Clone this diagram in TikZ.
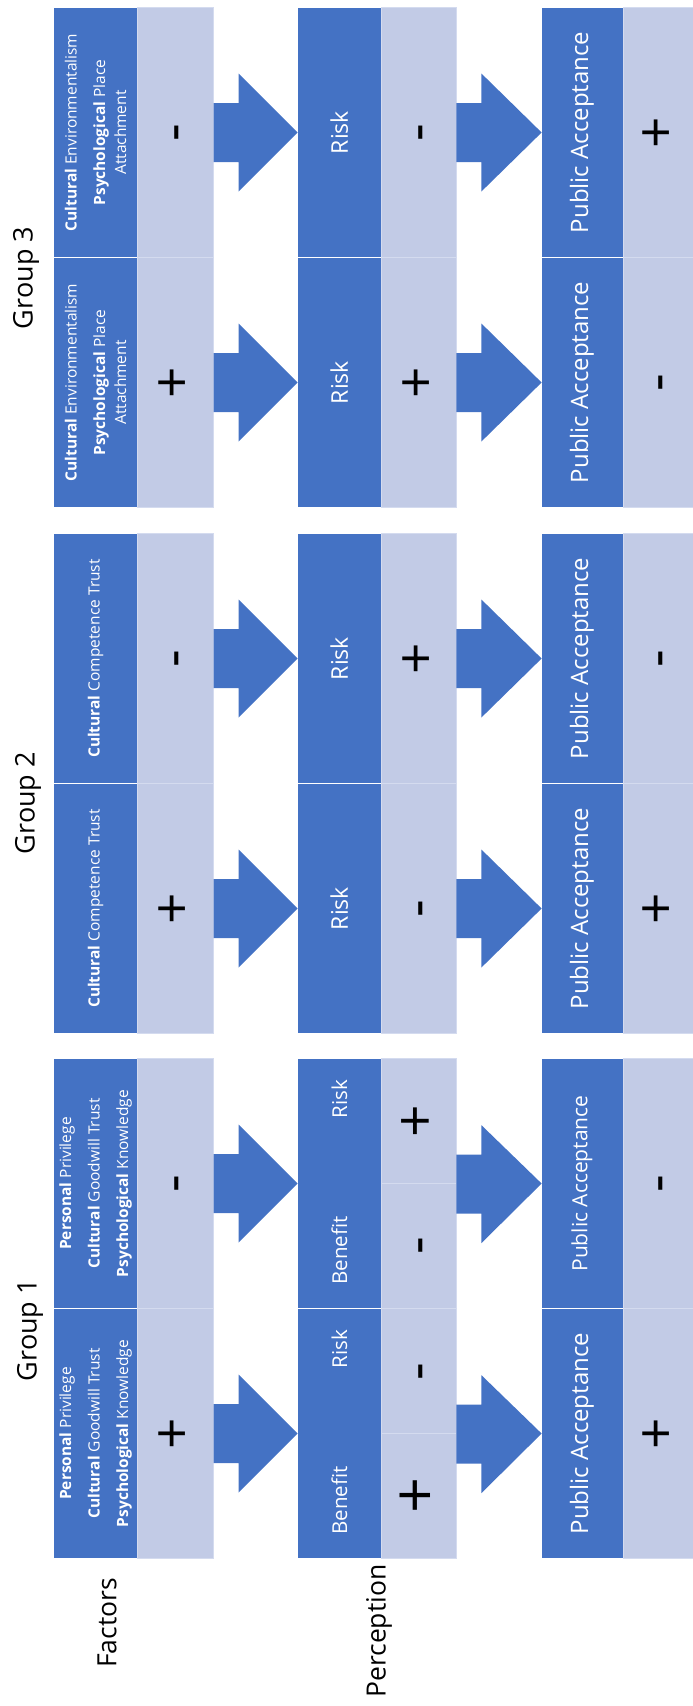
\documentclass[tikz,border=0pt]{standalone}
\usepackage{fontspec}
\setmainfont{Open Sans}
\usetikzlibrary{calc}
\definecolor{accent}{RGB}{68,114,196}
\definecolor{lightc}{RGB}{194,203,230}
\definecolor{lightedge}{RGB}{212,219,239}
\newcommand\sgn[1]{\vphantom{+}#1}
\newcommand\blockarrow[2]{%
  \fill[accent] ([yshift=29.5pt]#1) -- ([xshift=25pt,yshift=29.5pt]#1) -- ([xshift=25pt,yshift=59pt]#1)
    -- ([xshift=1pt]#2) -- ([xshift=25pt,yshift=-59pt]#1) -- ([xshift=25pt,yshift=-29.5pt]#1)
    -- ([yshift=-29.5pt]#1) -- cycle;}
\tikzset{
  darkbox/.style={fill=accent, draw=white, line width=0.8pt, rotate=90, inner sep=0pt,
    minimum width=250pt, text=white, align=center},
  facbox/.style={darkbox, minimum height=84.4pt, font=\fontsize{15.5}{21}\selectfont},
  percbox/.style={darkbox, minimum height=84.7pt},
  pabox/.style={darkbox, minimum height=82pt},
  lightbox/.style={fill=lightc, draw=lightedge, line width=0.8pt, rotate=90, inner sep=0pt,
    minimum width=250pt, text=black, font=\fontsize{55}{55}\selectfont},
  facsign/.style={lightbox, minimum height=75.6pt},
  percsign/.style={lightbox, minimum height=74.3pt},
  pasign/.style={lightbox, minimum height=72pt},
  plabel/.style={rotate=90, text=white, inner sep=0pt},
  biglabel/.style={rotate=90, text=black, inner sep=0pt, font=\fontsize{26.5}{26.5}\selectfont}
}
% #1 id, #2 y, #3 factor text, #4 factor sign, #5 perception sign, #6 acceptance sign
\newcommand\makerow[6]{%
  \node[facbox] (#1F) at (95.5,#2) {#3};
  \node[facsign] (#1Fs) at (175.5,#2) {\sgn{#4}};
  \node[percbox, font=\fontsize{23}{23}\selectfont] (#1P) at (339.35,#2) {Risk};
  \node[percsign] (#1Ps) at (418.85,#2) {\sgn{#5}};
  \node[pabox, font=\fontsize{24}{24}\selectfont] (#1A) at (582,#2) {Public Acceptance};
  \node[pasign] (#1As) at (659,#2) {\sgn{#6}};
  \blockarrow{#1Fs.south}{#1P.north}
  \blockarrow{#1Ps.south}{#1A.north}
}
\begin{document}
\begin{tikzpicture}[x=1pt,y=-1pt]
\useasboundingbox (0,0) rectangle (693,1706);

% Group 3
\makerow{gca}{132.5}{\textbf{Cultural} Environmentalism\\[7.5pt]\textbf{Psychological} Place\\Attachment}{-}{-}{+}
\makerow{gcb}{382.5}{\textbf{Cultural} Environmentalism\\[7.5pt]\textbf{Psychological} Place\\Attachment}{+}{+}{-}
% Group 2
\makerow{gba}{658.5}{\textbf{Cultural} Competence Trust}{-}{+}{-}
\makerow{gbb}{908.5}{\textbf{Cultural} Competence Trust}{+}{-}{+}

% Group 1, upper row
\node[facbox] (gaaF) at (95.5,1183.5) {\textbf{Personal} Privilege\\[7.5pt]\textbf{Cultural} Goodwill Trust\\[7.5pt]\textbf{Psychological} Knowledge};
\node[facsign] (gaaFs) at (175.5,1183.5) {\sgn{-}};
\node[percbox] (gaaP) at (339.35,1183.5) {};
\node[plabel, font=\fontsize{20.5}{20.5}\selectfont] (gaaPb) at (339.35,1250.5) {Benefit};
\node[plabel, font=\fontsize{20.5}{20.5}\selectfont] (gaaPr) at (339.35,1099) {Risk};
\node[percsign, minimum width=125pt, font=\fontsize{57}{57}\selectfont] (gaaPsr) at (418.85,1121.25) {\sgn{+}};
\node[percsign, minimum width=125pt] (gaaPsb) at (418.85,1245.75) {\sgn{-}};
\node[pabox, font=\fontsize{21}{21}\selectfont] (gaaA) at (582,1183.5) {Public Acceptance};
\node[pasign] (gaaAs) at (659,1183.5) {\sgn{-}};
\blockarrow{gaaFs.south}{gaaP.north}
\blockarrow{gaaPsr.south west}{gaaA.north}

% Group 1, lower row
\node[facbox] (gabF) at (95.5,1433.5) {\textbf{Personal} Privilege\\[7.5pt]\textbf{Cultural} Goodwill Trust\\[7.5pt]\textbf{Psychological} Knowledge};
\node[facsign] (gabFs) at (175.5,1433.5) {\sgn{+}};
\node[percbox] (gabP) at (339.35,1433.5) {};
\node[plabel, font=\fontsize{20.5}{20.5}\selectfont] (gabPb) at (339.35,1500.5) {Benefit};
\node[plabel, font=\fontsize{20.5}{20.5}\selectfont] (gabPr) at (339.35,1349) {Risk};
\node[percsign, minimum width=125pt] (gabPsr) at (418.85,1371.25) {\sgn{-}};
\node[percsign, minimum width=125pt, font=\fontsize{63}{63}\selectfont] (gabPsb) at (418.85,1495.75) {\sgn{+}};
\node[pabox, font=\fontsize{24}{24}\selectfont] (gabA) at (582,1433.5) {Public Acceptance};
\node[pasign] (gabAs) at (659,1433.5) {\sgn{+}};
\blockarrow{gabFs.south}{gabP.north}
\blockarrow{gabPsr.south west}{gabA.north}

% Labels
\node[biglabel, font=\fontsize{27}{27}\selectfont] (grp3) at (26,278) {Group 3};
\node[biglabel, font=\fontsize{27}{27}\selectfont] (grp2) at (28,803) {Group 2};
\node[biglabel, font=\fontsize{27}{27}\selectfont] (grp1) at (30,1330) {Group 1};
\node[biglabel] (factors) at (107,1623) {Factors};
\node[biglabel] (perception) at (379,1631) {Perception};
\end{tikzpicture}
\end{document}
